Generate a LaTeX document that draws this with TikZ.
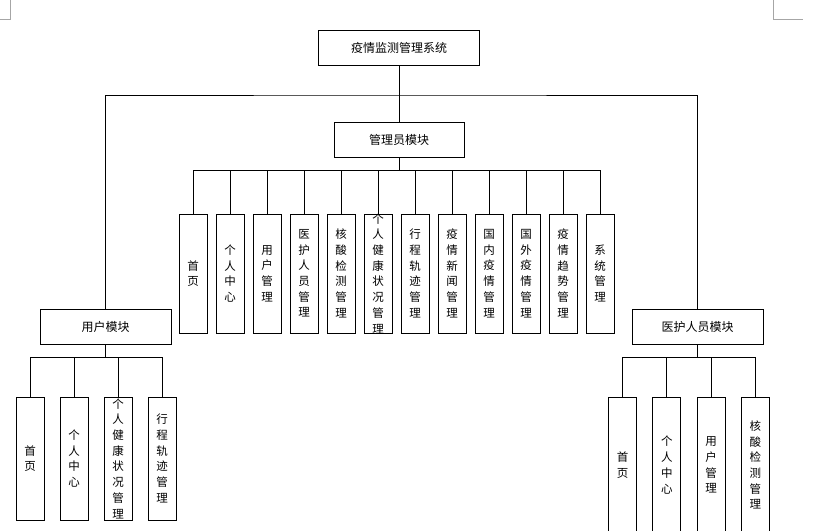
\documentclass[tikz,border=0pt]{standalone}
\usepackage{fontspec}
\setmainfont{Noto Sans CJK SC}
\usetikzlibrary{positioning}
\tikzset{module/.style={draw,line width=0.8pt,minimum height=35pt,inner sep=0pt,font=\fontsize{12}{14}\selectfont}}
\tikzset{leaf/.style={draw,line width=0.8pt,minimum width=28pt,minimum height=119pt,inner sep=0pt,
  label={[align=center,inner sep=0pt,font=\fontsize{11.5}{15.7}\selectfont]center:#1}}}
\tikzset{tallleaf/.style={leaf=#1,minimum height=123pt}}
\tikzset{openleaf/.style={leaf=#1,minimum height=136pt}}
\tikzset{corner/.style={draw=gray!70,line width=0.8pt}}

\begin{document}
\begin{tikzpicture}[x=1pt,y=1pt,line width=0.8pt]
\useasboundingbox (0,0) rectangle (821,530);
% page corners
\draw[corner] (10,530) -- (10,511) -- (0,511);
\draw[corner] (773,530) -- (773,511) -- (803,511);
% root and modules
\node[module,minimum width=161pt](sys) at (399,482.5){疫情监测管理系统};
\node[module,minimum width=130pt](admin) at (399,390.5){管理员模块};
\node[module,minimum width=131pt](user) at (105.5,203.5){用户模块};
\node[module,minimum width=131pt](med) at (697.5,203.5){医护人员模块};
\coordinate (bus) at (399,435);
\draw (sys) -- (admin);
\draw (user) |- (bus) -| (med);
% admin functions
\begin{scope}[node distance=8.2pt]
\node[leaf={首\\页}](a1) at (193,256.5){};
\node[leaf={个\\人\\中\\心}](a2)[right=of a1]{};
\node[leaf={用\\户\\管\\理}](a3)[right=of a2]{};
\node[leaf={医\\护\\人\\员\\管\\理}](a4)[right=of a3]{};
\node[leaf={核\\酸\\检\\测\\管\\理}](a5)[right=of a4]{};
\node[leaf={个\\人\\健\\康\\状\\况\\管\\理}](a6)[right=of a5]{};
\node[leaf={行\\程\\轨\\迹\\管\\理}](a7)[right=of a6]{};
\node[leaf={疫\\情\\新\\闻\\管\\理}](a8)[right=of a7]{};
\node[leaf={国\\内\\疫\\情\\管\\理}](a9)[right=of a8]{};
\node[leaf={国\\外\\疫\\情\\管\\理}](a10)[right=of a9]{};
\node[leaf={疫\\情\\趋\\势\\管\\理}](a11)[right=of a10]{};
\node[leaf={系\\统\\管\\理}](a12)[right=of a11]{};
\end{scope}
\coordinate (abus) at (399,360);
\draw (admin) -- (abus);
\foreach \i in {1,...,12} \draw (abus) -| (a\i.north);
% user functions
\begin{scope}[node distance=15.2pt]
\node[tallleaf={首\\页}](u1) at (30,71.5){};
\node[tallleaf={个\\人\\中\\心}](u2)[right=of u1]{};
\node[tallleaf={个\\人\\健\\康\\状\\况\\管\\理}](u3)[right=of u2]{};
\node[tallleaf={行\\程\\轨\\迹\\管\\理}](u4)[right=of u3]{};
\end{scope}
\coordinate (ubus) at (105.5,173);
\draw (user) -- (ubus);
\foreach \i in {1,...,4} \draw (ubus) -| (u\i.north);
% medical staff functions
\begin{scope}[node distance=15.5pt]
\node[openleaf={首\\页}](m1) at (622.5,65){};
\node[openleaf={个\\人\\中\\心}](m2)[right=of m1]{};
\node[openleaf={用\\户\\管\\理}](m3)[right=of m2]{};
\node[openleaf={核\\酸\\检\\测\\管\\理}](m4)[right=of m3]{};
\end{scope}
\coordinate (mbus) at (697.5,173);
\draw (med) -- (mbus);
\foreach \i in {1,...,4} \draw (mbus) -| (m\i.north);
\end{tikzpicture}
\end{document}
